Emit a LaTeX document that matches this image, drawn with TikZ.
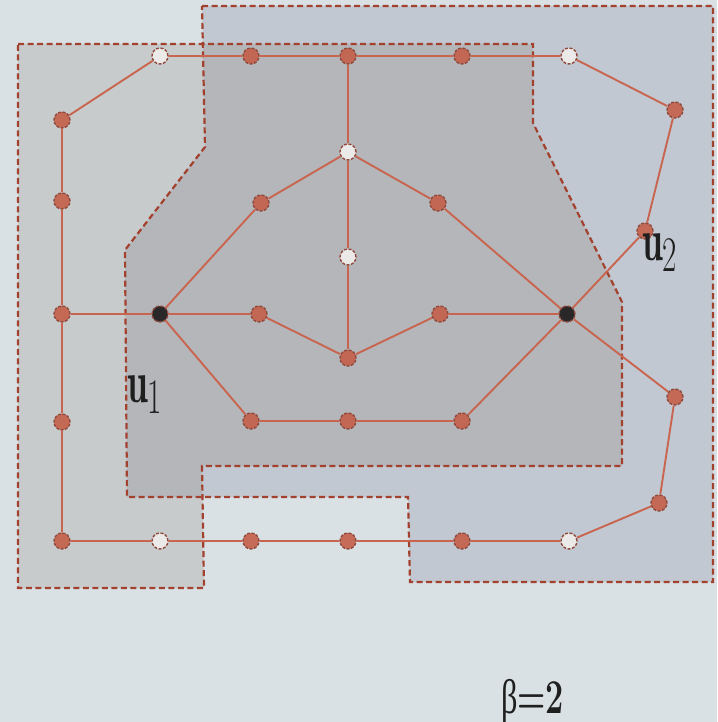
\documentclass[tikz,border=0pt]{standalone}
\usepackage{fontspec}
\newfontfamily\grkfont{Liberation Serif}
\usetikzlibrary{positioning}
\definecolor{bgblue}{HTML}{DAE1E4}
\definecolor{leftgray}{HTML}{C8CBCC}
\definecolor{rightblue}{HTML}{C1C8D1}
\definecolor{bothgray}{HTML}{B4B6BA}
\definecolor{rimred}{HTML}{A3412F}
\definecolor{edgered}{HTML}{C9654F}
\definecolor{vtxred}{HTML}{C45F48}
\definecolor{vtxrim}{HTML}{8F4A3D}
\definecolor{vtxwhite}{HTML}{ECEAE8}
\definecolor{vtxblack}{HTML}{2A2729}
\tikzset{
	vtx/.style={circle, minimum size=16pt, inner sep=0pt, fill=vtxred, fill opacity=0.9, draw=vtxrim, line width=1.4pt, dash pattern=on 3pt off 1.5pt},
	hole/.style={vtx, fill=vtxwhite, fill opacity=1},
	hub/.style={vtx, fill=vtxblack, fill opacity=1},
	link/.style={edgered, line width=1.9pt},
	zone/.style={rimred, line width=2.2pt, dash pattern=on 6pt off 3.5pt},
	tag/.style={anchor=base west, inner sep=0pt, text=black!88, font=\Huge}
}
\def\leftzone{(18,44) -- (533,44) -- (533,123) -- (622,302) -- (622,466) -- (202,466) -- (204,588) -- (18,588) -- cycle}
\def\rightzone{(202,6) -- (713,6) -- (713,582) -- (410,582) -- (408,497) -- (127,497) -- (125,250) -- (205,147) -- cycle}
\begin{document}
\begin{tikzpicture}[x=1pt, y=-1pt]
		\useasboundingbox (0,0) rectangle (717,722);
		\fill[bgblue] (0,0) rectangle (717,722);
		% the two zones and their overlap
		\fill[leftgray] \leftzone;
		\fill[rightblue] \rightzone;
		\begin{scope}
			\clip \leftzone;
			\fill[bothgray] \rightzone;
		\end{scope}
		\draw[zone] \leftzone;
		\draw[zone] \rightzone;
		% outer ring
		\node[hole] (t1) at (160,56) {};
		\node[vtx] (t2) at (251,56) {};
		\node[vtx] (t3) at (348,56) {};
		\node[vtx] (t4) at (462,56) {};
		\node[hole] (t5) at (569,56) {};
		\node[vtx] (l1) at (62,120) {};
		\node[vtx] (l2) at (62,201) {};
		\node[vtx] (l3) at (62,314) {};
		\node[vtx] (l4) at (62,422) {};
		\node[vtx] (l5) at (62,541) {};
		\node[hole] (b1) at (160,541) {};
		\node[vtx] (b2) at (251,541) {};
		\node[vtx] (b3) at (348,541) {};
		\node[vtx] (b4) at (462,541) {};
		\node[hole] (b5) at (569,541) {};
		\node[vtx] (r1) at (675,110) {};
		\node[vtx] (r2) at (645,231) {};
		\node[vtx] (r3) at (675,397) {};
		\node[vtx] (r4) at (659,503) {};
		% inner part
		\node[hole] (c1) at (348,152) {};
		\node[vtx] (c2) at (261,203) {};
		\node[vtx] (c3) at (438,203) {};
		\node[hole] (c4) at (348,257) {};
		\node[hub] (hl) at (160,314) {};
		\node[vtx] (m1) at (259,314) {};
		\node[vtx] (m2) at (440,314) {};
		\node[hub] (hr) at (567,314) {};
		\node[vtx] (c5) at (348,358) {};
		\node[vtx] (d1) at (251,421) {};
		\node[vtx] (d2) at (348,421) {};
		\node[vtx] (d3) at (462,421) {};
		\draw[link] (l1) -- (t1) -- (t2) -- (t3) -- (t4) -- (t5) -- (r1) -- (r2) -- (hr) -- (r3) -- (r4) -- (b5) -- (b4) -- (b3) -- (b2) -- (b1) -- (l5) -- (l4) -- (l3) -- (l2) -- (l1);
		\draw[link] (l3) -- (hl);
		\draw[link] (t3) -- (c1) -- (c4) -- (c5);
		\draw[link] (hl) -- (c2) -- (c1) -- (c3) -- (hr);
		\draw[link] (hl) -- (m1) -- (c5) -- (m2) -- (hr);
		\draw[link] (hl) -- (d1) -- (d2) -- (d3) -- (hr);
		% labels
		\node[tag] (u1) at (127,402) {\scalebox{1.5}[2.4]{$\mathbf{u}_1$}};
		\node[tag] (u2) at (642,260) {\scalebox{1.5}[2.4]{$\mathbf{u}_2$}};
		\node[tag] (beta) at (501,713) {\scalebox{1.3}[1.95]{{\grkfont β}\textbf{=2}}};
	\end{tikzpicture}
\end{document}
